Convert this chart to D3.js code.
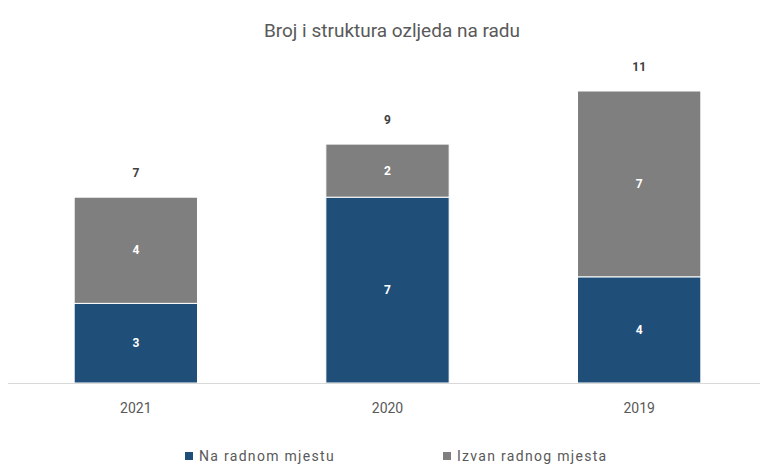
<!DOCTYPE html>
<html>
<head>
<meta charset="utf-8">
<script src="https://cdn.jsdelivr.net/npm/d3@7/dist/d3.min.js"></script>
<style>
  body { margin: 0; background: #fff; }
  svg { display: block; font-family: Roboto, sans-serif; }
</style>
</head>
<body>
<svg width="760" height="467"></svg>
<script>
  var years = ["2021", "2020", "2019"];
  var seriesNames = ["Na radnom mjestu", "Izvan radnog mjesta"];
  var naRadnom = [3, 7, 4];
  var izvanRadnog = [4, 2, 7];
  var title = "Broj i struktura ozljeda na radu";

  var colors = ["#1f4e79", "#7f7f7f"];
  var svg = d3.select("svg");

  var rows = years.map(function (y, i) {
    return { year: y, a: naRadnom[i], b: izvanRadnog[i] };
  });
  var stack = d3.stack().keys(["a", "b"])(rows);

  var x = d3.scaleBand().domain(years).range([10, 765]).paddingInner(0.51).paddingOuter(0.255);
  var y = d3.scaleLinear().domain([0, 11]).range([383, 91]);

  svg.append("text").attr("x", 392).attr("y", 37).attr("text-anchor", "middle")
    .style("font-size", "19px").style("fill", "#595959").text(title);

  var layers = svg.selectAll("g.layer").data(stack).enter().append("g")
    .attr("class", "layer").attr("fill", function (d, i) { return colors[i]; });

  layers.selectAll("rect").data(function (d) { return d; }).enter().append("rect")
    .attr("x", function (d) { return x(d.data.year); })
    .attr("width", x.bandwidth())
    .attr("y", function (d) { return y(d[1]); })
    .attr("height", function (d) { return y(d[0]) - y(d[1]); })
    .attr("stroke", "#fff").attr("stroke-width", 1);

  layers.selectAll("text").data(function (d) { return d; }).enter().append("text")
    .attr("x", function (d) { return x(d.data.year) + x.bandwidth() / 2; })
    .attr("y", function (d) { return (y(d[0]) + y(d[1])) / 2 + 4; })
    .attr("text-anchor", "middle")
    .style("font-weight", "bold").style("font-size", "12px").style("fill", "#fff")
    .text(function (d) { return d[1] - d[0]; });

  // totals above bars
  svg.selectAll("text.total").data(rows).enter().append("text").attr("class", "total")
    .attr("x", function (d) { return x(d.year) + x.bandwidth() / 2; })
    .attr("y", function (d) { return y(d.a + d.b) - 20; })
    .attr("text-anchor", "middle")
    .style("font-weight", "bold").style("font-size", "12px").style("fill", "#404040")
    .text(function (d) { return d.a + d.b; });

  // baseline axis
  var axis = svg.append("g").attr("transform", "translate(0,383)")
    .call(d3.axisBottom(x).tickSize(0).tickPadding(20));
  axis.select(".domain").attr("stroke", "#d9d9d9").attr("d", "M8,0.5H760");
  axis.selectAll("text").style("font-family", "Roboto, sans-serif")
    .style("font-size", "14px").style("fill", "#595959");

  // legend
  var legendX = [185, 443];
  var legend = svg.selectAll("g.legend").data(seriesNames).enter().append("g")
    .attr("class", "legend")
    .attr("transform", function (d, i) { return "translate(" + legendX[i] + ",461)"; });
  legend.append("rect").attr("x", 0).attr("y", -9).attr("width", 8).attr("height", 8)
    .attr("fill", function (d, i) { return colors[i]; });
  legend.append("text").attr("x", 14).attr("y", 0)
    .style("font-size", "14px").style("letter-spacing", "1.3px").style("fill", "#595959")
    .text(function (d) { return d; });
</script>
</body>
</html>
